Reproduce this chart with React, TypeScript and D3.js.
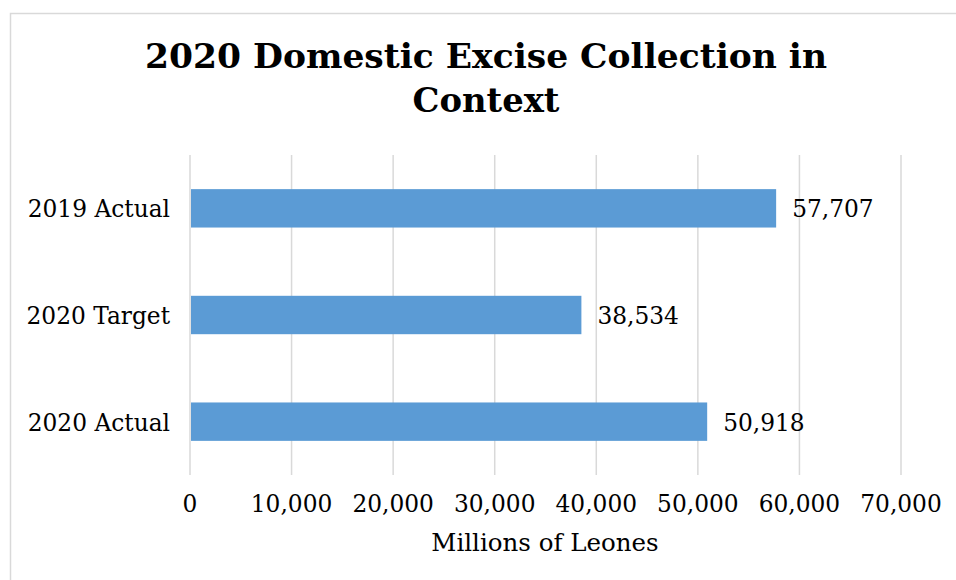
import React from "react";
import * as d3 from "d3";

const categories = ["2019 Actual", "2020 Target", "2020 Actual"];
const values = [57707, 38534, 50918];
const tickValues = [0, 10000, 20000, 30000, 40000, 50000, 60000, 70000];
const titleLines = ["2020 Domestic Excise Collection in", "Context"];
const axisTitle = "Millions of Leones";

const W = 956;
const H = 580;
const plot = { left: 190, right: 901, top: 155, bottom: 475 };
const FONT = "'DejaVu Serif', 'Liberation Serif', serif";

export default function App() {
  const x = d3.scaleLinear().domain([0, 70000]).range([plot.left, plot.right]);
  const y = d3
    .scaleBand<string>()
    .domain(categories)
    .range([plot.top, plot.bottom])
    .paddingInner(0.64)
    .paddingOuter(0.32);
  const fmt = d3.format(",");

  return (
    <svg
      width={W}
      height={H}
      style={{ position: "absolute", left: 0, top: 0, display: "block", background: "#fff" }}
    >
      <rect x={10.5} y={13.5} width={960} height={600} fill="#fff" stroke="#d9d9d9" strokeWidth={1.5} />
      {titleLines.map((t, i) => (
        <text
          key={t}
          x={486}
          y={68 + i * 43.5}
          textAnchor="middle"
          fontFamily={FONT}
          fontWeight="bold"
          fontSize={34}
          fill="#000"
          textLength={i === 0 ? 682 : 147}
          lengthAdjust="spacingAndGlyphs"
        >
          {t}
        </text>
      ))}
      {tickValues.map((v) => (
        <line
          key={"g" + v}
          x1={x(v)}
          x2={x(v)}
          y1={plot.top}
          y2={plot.bottom}
          stroke="#d9d9d9"
          strokeWidth={1.5}
        />
      ))}
      {categories.map((c, i) => {
        const by = y(c)!;
        const bh = y.bandwidth();
        return (
          <g key={c}>
            <rect x={x(0) + 1} y={by} width={x(values[i]) - x(0) - 1} height={bh} fill="#5B9BD5" />
            <text
              x={x(values[i]) + 16}
              y={by + bh / 2 + 9}
              fontFamily={FONT}
              fontSize={23.3}
              fill="#000"
            >
              {fmt(values[i])}
            </text>
            <text
              x={170}
              y={by + bh / 2 + 9}
              textAnchor="end"
              fontFamily={FONT}
              fontSize={23.3}
              fill="#000"
            >
              {c}
            </text>
          </g>
        );
      })}
      {tickValues.map((v) => (
        <text
          key={"t" + v}
          x={x(v)}
          y={512}
          textAnchor="middle"
          fontFamily={FONT}
          fontSize={23.3}
          fill="#000"
        >
          {fmt(v)}
        </text>
      ))}
      <text x={545} y={551} textAnchor="middle" fontFamily={FONT} fontSize={24.5} fill="#000">
        {axisTitle}
      </text>
    </svg>
  );
}
